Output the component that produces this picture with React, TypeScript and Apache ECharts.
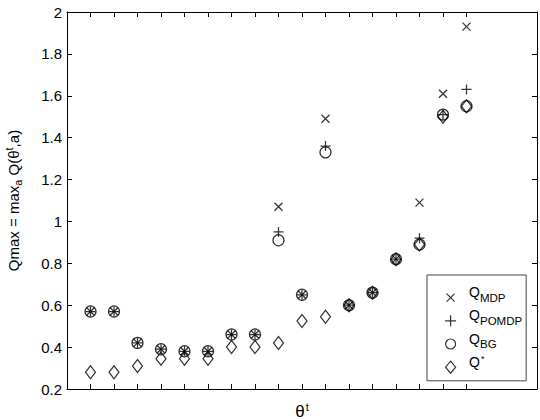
import React, { useEffect, useRef } from "react";
import * as echarts from "echarts";

const xPositions = [1, 2, 3, 4, 5, 6, 7, 8, 9, 10, 11, 12, 13, 14, 15, 16, 17];
const qMDP = [0.57, 0.57, 0.42, 0.39, 0.38, 0.38, 0.46, 0.46, 1.07, 0.65, 1.49, 0.60, 0.66, 0.82, 1.09, 1.61, 1.93];
const qPOMDP = [0.57, 0.57, 0.42, 0.39, 0.38, 0.38, 0.46, 0.46, 0.95, 0.65, 1.36, 0.60, 0.66, 0.82, 0.92, 1.51, 1.63];
const qBG = [0.57, 0.57, 0.42, 0.39, 0.38, 0.38, 0.46, 0.46, 0.91, 0.65, 1.33, 0.60, 0.66, 0.82, 0.89, 1.51, 1.55];
const qStar = [0.28, 0.28, 0.31, 0.345, 0.345, 0.345, 0.40, 0.40, 0.42, 0.525, 0.545, 0.60, 0.66, 0.82, 0.89, 1.50, 1.55];

const FONT = "'Liberation Sans', Arial, Helvetica, sans-serif";

const X_SYM = "path://M0,0M14,14M3,3L11,11M11,3L3,11";
const PLUS_SYM = "path://M0,5L10,5M5,0L5,10";
const DIAMOND_SYM = "path://M5,0L10,6.5L5,13L0,6.5Z";

// legend icons: visible shape drawn in the lower part of a 13x24 box
const L_BOX = "M0,0M13,24";
const L_X = `path://${L_BOX}M2.5,13.5L10.5,21.5M10.5,13.5L2.5,21.5`;
const L_PLUS = `path://${L_BOX}M1,17.5L12,17.5M6.5,12L6.5,23`;
const L_CIRCLE = `path://${L_BOX}M1.5,17.5A5,5 0 1 1 11.5,17.5A5,5 0 1 1 1.5,17.5Z`;
const L_DIAMOND = `path://${L_BOX}M6.5,11.5L11.5,17.5L6.5,23.5L1.5,17.5Z`;

export default function App() {
  const ref = useRef<HTMLDivElement>(null);
  useEffect(() => {
    if (!ref.current) return;
    const chart = echarts.init(ref.current, undefined, { renderer: "svg" });
    const pair = (arr: number[]) => arr.map((v, i) => [xPositions[i], v]);
    const hollow = {
      color: "rgba(0,0,0,0)",
      borderColor: "#000",
      borderWidth: 1.25,
    };
    const tickCommon = {
      show: true,
      inside: true,
      length: 5,
      lineStyle: { color: "#000", width: 1 },
    };
    const legendRich = {
      q: {
        fontSize: 14,
        lineHeight: 14,
        fontFamily: FONT,
        color: "#000",
        verticalAlign: "top",
        padding: [0, 0, 0, 7],
      },
      s: {
        fontSize: 11.5,
        lineHeight: 13,
        fontFamily: FONT,
        color: "#000",
        verticalAlign: "top",
        padding: [6.5, 0, 0, 0],
      },
      p: {
        fontSize: 9,
        lineHeight: 9,
        fontFamily: FONT,
        color: "#000",
        verticalAlign: "top",
        padding: [0, 0, 0, 1],
      },
    };
    chart.setOption({
      animation: false,
      backgroundColor: "#fff",
      grid: {
        left: 67,
        right: 3,
        top: 12,
        bottom: 31,
        containLabel: false,
        outerBoundsMode: "none",
      },
      xAxis: [
        {
          type: "value",
          min: 0,
          max: 20,
          position: "bottom",
          axisLine: { show: true, onZero: false, lineStyle: { color: "#000", width: 1 } },
          axisTick: { ...tickCommon, customValues: xPositions },
          axisLabel: { show: false },
          splitLine: { show: false },
          name: "{t|θ}{u|t}",
          nameLocation: "middle",
          nameGap: 12,
          nameTextStyle: {
            rich: {
              t: { fontSize: 17, fontFamily: FONT, color: "#000" },
              u: { fontSize: 11, fontFamily: FONT, color: "#000", padding: [0, 0, 10, 1] },
            },
          },
        },
        {
          type: "value",
          min: 0,
          max: 20,
          position: "top",
          axisLine: { show: true, onZero: false, lineStyle: { color: "#000", width: 1 } },
          axisTick: { ...tickCommon, customValues: xPositions },
          axisLabel: { show: false },
          splitLine: { show: false },
        },
      ],
      yAxis: [
        {
          type: "value",
          min: 0.2,
          max: 2,
          interval: 0.2,
          position: "left",
          axisLine: { show: true, onZero: false, lineStyle: { color: "#000", width: 1 } },
          axisTick: tickCommon,
          axisLabel: { color: "#000", fontSize: 15, fontFamily: FONT, margin: 5 },
          splitLine: { show: false },
          name: "{a|Qmax = max}{b|a}{a| Q(θ}{c|t}{a|,a)}",
          nameLocation: "middle",
          nameRotate: 90,
          nameGap: 44,
          nameTextStyle: {
            rich: {
              a: { fontSize: 15, fontFamily: FONT, color: "#000" },
              b: { fontSize: 11, fontFamily: FONT, color: "#000", padding: [9, 0, 0, 0] },
              c: { fontSize: 11, fontFamily: FONT, color: "#000", padding: [0, 0, 9, 0] },
            },
          },
        },
        {
          type: "value",
          min: 0.2,
          max: 2,
          interval: 0.2,
          position: "right",
          axisLine: { show: true, onZero: false, lineStyle: { color: "#000", width: 1 } },
          axisTick: tickCommon,
          axisLabel: { show: false },
          splitLine: { show: false },
        },
      ],
      legend: {
        orient: "vertical",
        left: 427,
        top: 275,
        padding: [4.5, 4, 6.5, 16.5],
        itemGap: -2,
        itemWidth: 13,
        itemHeight: 24,
        symbolKeepAspect: true,
        backgroundColor: "#fff",
        borderColor: "#444",
        borderWidth: 1,
        selectedMode: false,
        itemStyle: {
          color: "rgba(0,0,0,0)",
          borderColor: "#000",
          borderWidth: 1.2,
        },
        data: [
          { name: "MDP", icon: L_X },
          { name: "POMDP", icon: L_PLUS },
          { name: "BG", icon: L_CIRCLE },
          { name: "STAR", icon: L_DIAMOND },
        ],
        formatter: (name: string) =>
          name === "STAR" ? "{q|Q}{p|*}" : `{q|Q}{s|${name}}`,
        textStyle: { rich: legendRich },
      },
      series: [
        {
          name: "MDP",
          type: "scatter",
          xAxisIndex: 0,
          yAxisIndex: 0,
          symbol: X_SYM,
          symbolSize: 14,
          itemStyle: hollow,
          data: pair(qMDP),
        },
        {
          name: "POMDP",
          type: "scatter",
          symbol: PLUS_SYM,
          symbolSize: 10,
          itemStyle: hollow,
          data: pair(qPOMDP),
        },
        {
          name: "BG",
          type: "scatter",
          symbol: "circle",
          symbolSize: 11,
          itemStyle: hollow,
          data: pair(qBG),
        },
        {
          name: "STAR",
          type: "scatter",
          symbol: DIAMOND_SYM,
          symbolSize: [10, 13],
          itemStyle: hollow,
          data: pair(qStar),
        },
      ],
    });
    return () => chart.dispose();
  }, []);
  return (
    <div
      ref={ref}
      style={{ position: "fixed", left: 0, top: 0, width: 540, height: 420 }}
    />
  );
}
